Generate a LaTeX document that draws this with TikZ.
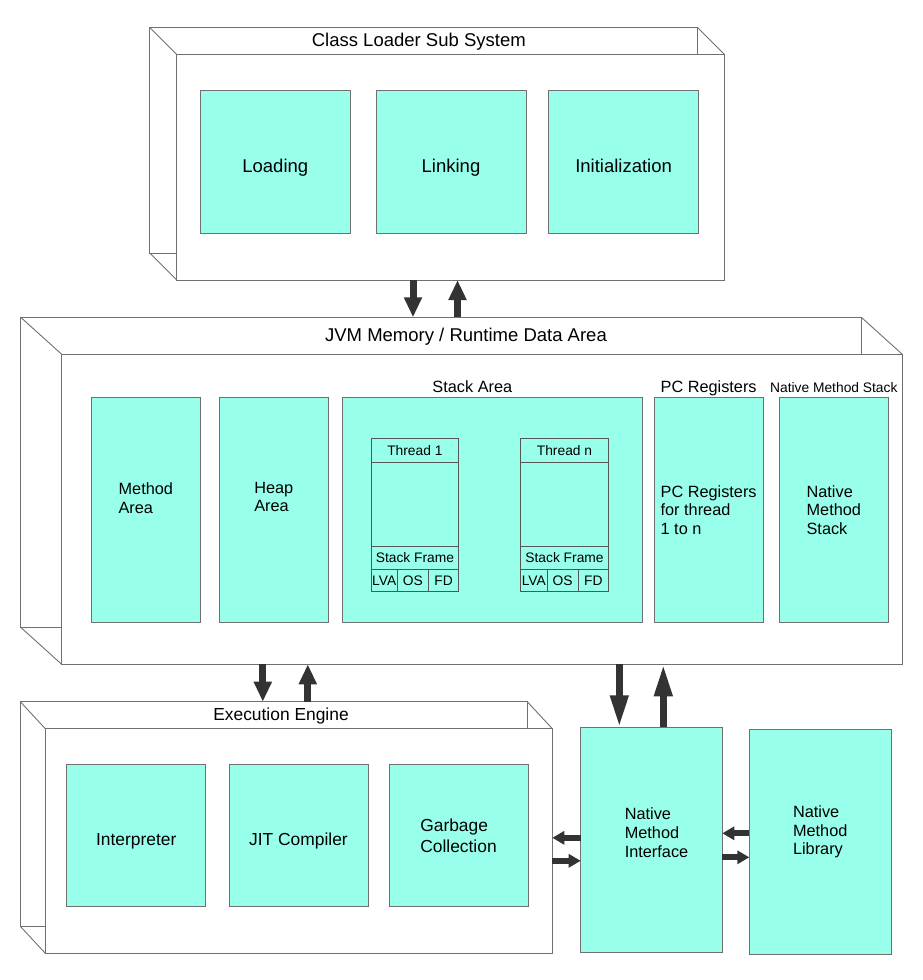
\documentclass[tikz,border=0pt]{standalone}
\usepackage{fontspec}
\setmainfont{Liberation Sans}
\usetikzlibrary{positioning,arrows.meta,calc}
\definecolor{aqua}{HTML}{98FFEA}
\definecolor{edge}{HTML}{707070}
\definecolor{celledge}{HTML}{555555}
\definecolor{arrowdark}{HTML}{333333}
\newcommand\fntL{\fontsize{18.5}{22}\selectfont}
\newcommand\fntE{\fontsize{17.4}{21}\selectfont}
\newcommand\fntM{\fontsize{16.3}{18.7}\selectfont}
\newcommand\fntS{\fontsize{13.8}{16}\selectfont}
\tikzset{
  face/.style={rectangle,draw=edge,fill=white,line width=0.9pt,inner sep=0pt,outer sep=0pt},
  part/.style={rectangle,draw=edge,fill=aqua,line width=0.9pt,inner sep=0pt,outer sep=0pt,align=left},
  lowtext/.style={text height=25pt,text depth=4pt},
  cell/.style={rectangle,draw=celledge,line width=0.8pt,inner sep=0pt,outer sep=0pt,font=\fntS},
  header/.style={inner sep=2pt,text height=12pt,text depth=3pt},
  edgeline/.style={draw=edge,line width=0.9pt},
  fatarrow/.style={-{Triangle[length=20pt,width=17pt]},line width=7pt,draw=arrowdark},
  longarrow/.style={-{Triangle[length=32pt,width=17pt]},line width=7pt,draw=arrowdark},
  sidearrow/.style={-{Triangle[length=12pt,width=13pt]},line width=6pt,draw=arrowdark}
}
\begin{document}
\begin{tikzpicture}[x=1pt,y=-1pt]
    \useasboundingbox (0,0) rectangle (922,980);

    \node[face,minimum width=547.6pt,minimum height=225.7pt,xshift=-27pt,yshift=27pt] (clsback) at (450.5,167.2) {};
    \node[face,minimum width=547.6pt,minimum height=225.7pt] (cls) at (450.5,167.2) {};
    \draw[edgeline] (clsback.north west) -- (cls.north west) (clsback.north east) -- (cls.north east) (clsback.south west) -- (cls.south west);
    \node[font=\fntL] (clstitle) at (418.8,42) {Class Loader Sub System};
    \node[part,lowtext,font=\fntL,minimum width=150pt,minimum height=143pt] (loading) at (275.3,161.8) {Loading};
    \node[part,lowtext,font=\fntL,minimum width=150pt,minimum height=143pt,right=25.7pt of loading] (linking) {Linking};
    \node[part,lowtext,font=\fntL,minimum width=150pt,minimum height=143pt,right=22.6pt of linking] (init) {Initialization};

    \node[face,minimum width=840.6pt,minimum height=310pt,xshift=-41pt,yshift=37pt] (jvmback) at (482,509.3) {};
    \node[face,minimum width=840.6pt,minimum height=310pt] (jvm) at (482,509.3) {};
    \draw[edgeline] (jvmback.north west) -- (jvm.north west) (jvmback.north east) -- (jvm.north east) (jvmback.south west) -- (jvm.south west);
    \node[font=\fntL] (jvmtitle) at (466,337) {JVM Memory / Runtime Data Area};
    \node[part,minimum width=109pt,minimum height=225.4pt,label={[font=\fntM,align=left,yshift=12pt]center:Method\\Area}] (method) at (145.8,510) {};
    \node[part,minimum width=109pt,minimum height=225.4pt,right=19pt of method,label={[font=\fntM,align=left,yshift=13pt]center:Heap\\Area}] (heap) {};
    \node[part,minimum width=300.7pt,minimum height=225.4pt,right=13.7pt of heap] (stack) {};
    \node[part,font=\fntM,minimum width=108.7pt,minimum height=225.4pt,right=11.6pt of stack] (pcreg) {PC Registers\\for thread\\1 to n};
    \node[part,font=\fntM,minimum width=109pt,minimum height=225.4pt,right=16.3pt of pcreg] (nmstack) {Native\\Method\\Stack};
    \node[header,font=\fntM,above=0pt of stack,xshift=-20pt] (stacktitle) {Stack Area};
    \node[header,font=\fntM,above=0pt of pcreg] (pctitle) {PC Registers};
    \node[header,font=\fntS,above=0pt of nmstack] (nmstitle) {Native Method Stack};

    \node[cell,minimum width=87.7pt,minimum height=24.4pt] (t1head) at (414.9,450.5) {Thread 1};
    \node[cell,minimum width=87.7pt,minimum height=83.3pt,below=0pt of t1head] (t1body) {};
    \node[cell,minimum width=87.7pt,minimum height=23.3pt,below=0pt of t1body] (t1frame) {Stack Frame};
    \node[cell,minimum width=26.3pt,minimum height=22.4pt,below right=0pt and 0pt of t1frame.south west] (t1lva) {LVA};
    \node[cell,minimum width=31pt,minimum height=22.4pt,right=0pt of t1lva] (t1os) {OS};
    \node[cell,minimum width=30.4pt,minimum height=22.4pt,right=0pt of t1os] (t1fd) {FD};
    \node[cell,minimum width=88.4pt,minimum height=24.4pt] (tnhead) at (564.5,450.5) {Thread n};
    \node[cell,minimum width=88.4pt,minimum height=83.3pt,below=0pt of tnhead] (tnbody) {};
    \node[cell,minimum width=88.4pt,minimum height=23.3pt,below=0pt of tnbody] (tnframe) {Stack Frame};
    \node[cell,minimum width=27pt,minimum height=22.4pt,below right=0pt and 0pt of tnframe.south west] (tnlva) {LVA};
    \node[cell,minimum width=30.7pt,minimum height=22.4pt,right=0pt of tnlva] (tnos) {OS};
    \node[cell,minimum width=30.7pt,minimum height=22.4pt,right=0pt of tnos] (tnfd) {FD};

    \node[face,minimum width=507pt,minimum height=224.6pt,xshift=-25pt,yshift=27pt] (eeback) at (298.8,841) {};
    \node[face,minimum width=507pt,minimum height=224.6pt] (ee) at (298.8,841) {};
    \draw[edgeline] (eeback.north west) -- (ee.north west) (eeback.north east) -- (ee.north east) (eeback.south west) -- (ee.south west);
    \node[font=\fntE] (eetitle) at (281,715.5) {Execution Engine};
    \node[part,lowtext,font=\fntE,minimum width=139pt,minimum height=142.7pt] (interp) at (136.2,835.4) {Interpreter};
    \node[part,lowtext,font=\fntE,minimum width=139pt,minimum height=142.7pt,right=23.3pt of interp] (jit) {JIT Compiler};
    \node[part,font=\fntE,minimum width=139pt,minimum height=142.7pt,right=21pt of jit] (gc) {Garbage\\Collection};

    \node[part,minimum width=141.6pt,minimum height=225pt,label={[font=\fntM,align=left,xshift=5pt,yshift=7pt]center:Native\\Method\\Interface}] (nmi) at (651.5,839.8) {};
    \node[part,minimum width=141.7pt,minimum height=225pt,label={[font=\fntM,align=left,yshift=10pt]center:Native\\Method\\Library}] (nml) at (820.2,841.8) {};

    \draw[fatarrow] ([xshift=-37.5pt]cls.south) -- ([xshift=-37.5pt]cls.south |- jvmback.north);
    \draw[fatarrow] ([xshift=7pt]cls.south |- jvmback.north) -- ([xshift=7pt]cls.south);
    \draw[fatarrow] ([xshift=-36pt]ee.north |- jvm.south) -- ([xshift=-36pt]ee.north |- eeback.north);
    \draw[fatarrow] ([xshift=9pt]ee.north |- eeback.north) -- ([xshift=9pt]ee.north |- jvm.south);
    \draw[longarrow] ([xshift=-32.2pt]nmi.north |- jvm.south) -- ([xshift=-32.2pt]nmi.north);
    \draw[longarrow] ([xshift=11.8pt]nmi.north) -- ([xshift=11.8pt]nmi.north |- jvm.south);
    \draw[sidearrow] ([yshift=2pt]nmi.west) -- ([yshift=2pt]nmi.west -| ee.east);
    \draw[sidearrow] ([yshift=-21pt]nmi.west -| ee.east) -- ([yshift=-21pt]nmi.west);
    \draw[sidearrow] ([yshift=8.5pt]nml.west) -- ([yshift=8.5pt]nml.west -| nmi.east);
    \draw[sidearrow] ([yshift=-17.5pt]nmi.east) -- ([yshift=-17.5pt]nmi.east -| nml.west);
\end{tikzpicture}
\end{document}
